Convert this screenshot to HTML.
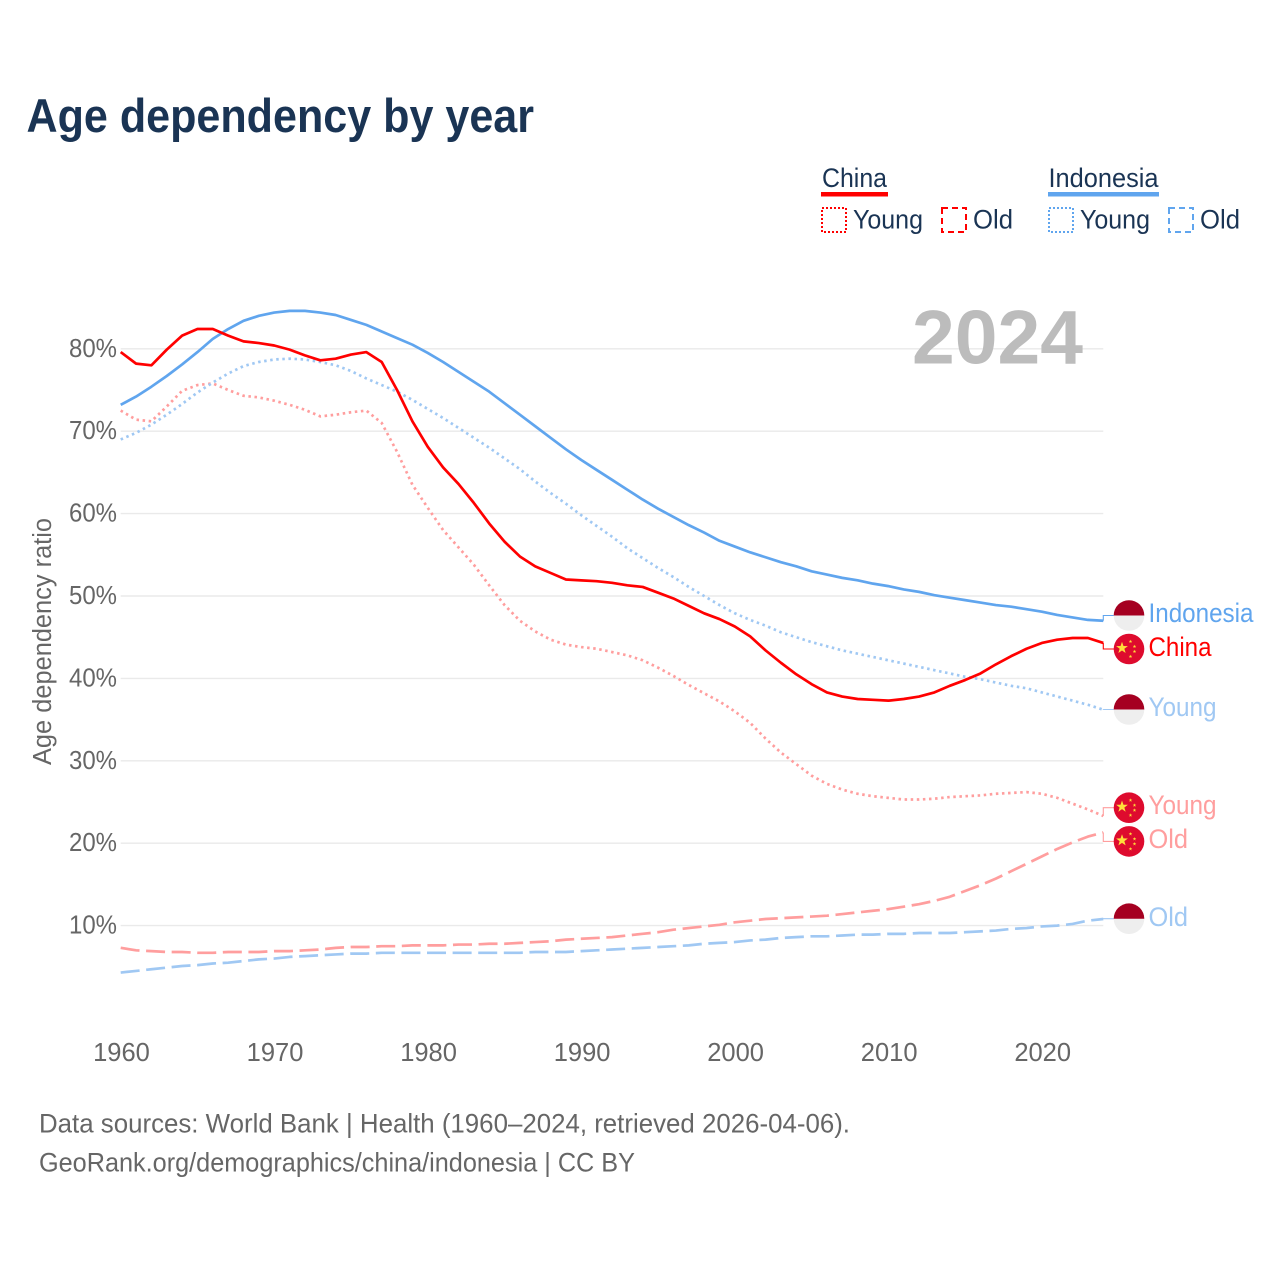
<!DOCTYPE html>
<html lang="en">
<head>
<meta charset="utf-8">
<title>Age dependency by year</title>
<style>
html,body{margin:0;padding:0;background:#fff;}
svg{display:block;}
text{font-family:"Liberation Sans",sans-serif;}
</style>
</head>
<body>
<svg id="chart" xmlns="http://www.w3.org/2000/svg" width="1280" height="1280" viewBox="0 0 1280 1280">
  <rect x="0" y="0" width="1280" height="1280" fill="#ffffff"/>
  <text x="26.5" y="132" font-size="47" font-weight="700" fill="#1a3454" textLength="507.5" lengthAdjust="spacingAndGlyphs">Age dependency by year</text>

  <g font-size="27" fill="#1a3454">
    <text x="822" y="187" textLength="65" lengthAdjust="spacingAndGlyphs">China</text>
    <rect x="821" y="192" width="67" height="4.5" fill="#ff0000"/>
    <rect x="822" y="208" width="24" height="24" fill="none" stroke="#ff0000" stroke-width="2" stroke-dasharray="2 2"/>
    <text x="853" y="228.5" textLength="70" lengthAdjust="spacingAndGlyphs">Young</text>
    <rect x="942" y="208" width="24" height="24" fill="none" stroke="#ff0000" stroke-width="2" stroke-dasharray="6 4"/>
    <text x="973" y="228.5" textLength="40" lengthAdjust="spacingAndGlyphs">Old</text>
    <text x="1048.5" y="187" textLength="110" lengthAdjust="spacingAndGlyphs">Indonesia</text>
    <rect x="1048" y="192" width="111" height="4.5" fill="#60a5ee"/>
    <rect x="1049" y="208" width="24" height="24" fill="none" stroke="#60a5ee" stroke-width="2" stroke-dasharray="2 2"/>
    <text x="1080" y="228.5" textLength="70" lengthAdjust="spacingAndGlyphs">Young</text>
    <rect x="1169" y="208" width="24" height="24" fill="none" stroke="#60a5ee" stroke-width="2" stroke-dasharray="6 4"/>
    <text x="1200" y="228.5" textLength="40" lengthAdjust="spacingAndGlyphs">Old</text>
  </g>

  <g id="grid"></g>
  <text x="912" y="363.5" font-size="76" font-weight="700" fill="#bcbcbc" textLength="171" lengthAdjust="spacingAndGlyphs">2024</text>
  <text x="0" y="0" transform="translate(51 765) rotate(-90)" font-size="25.5" fill="#666666" textLength="247" lengthAdjust="spacingAndGlyphs">Age dependency ratio</text>
  <g id="yticks"></g>
  <g id="xticks"></g>
  <g id="lines"></g>
  <g id="labels"></g>

  <g font-size="27" fill="#666666">
    <text x="39" y="1132.5" textLength="811" lengthAdjust="spacingAndGlyphs">Data sources: World Bank | Health (1960–2024, retrieved 2026-04-06).</text>
    <text x="39" y="1171.5" textLength="596" lengthAdjust="spacingAndGlyphs">GeoRank.org/demographics/china/indonesia | CC BY</text>
  </g>
</svg>
<script>
const firstYear = 1960;
const yearTicks = [1960, 1970, 1980, 1990, 2000, 2010, 2020];
const valueTicks = [10, 20, 30, 40, 50, 60, 70, 80];
const chinaTotal = [79.6,78.2,78.0,79.9,81.6,82.4,82.4,81.6,80.9,80.7,80.4,79.9,79.2,78.6,78.8,79.3,79.6,78.4,75.0,71.2,68.1,65.6,63.6,61.3,58.8,56.6,54.8,53.6,52.8,52.0,51.9,51.8,51.6,51.3,51.1,50.4,49.7,48.8,47.9,47.2,46.3,45.1,43.4,41.9,40.5,39.3,38.3,37.8,37.5,37.4,37.3,37.5,37.8,38.3,39.1,39.8,40.6,41.7,42.7,43.6,44.3,44.7,44.9,44.9,44.3];
const indonesiaTotal = [73.2,74.2,75.4,76.7,78.1,79.6,81.2,82.4,83.4,84.0,84.4,84.6,84.6,84.4,84.1,83.5,82.9,82.1,81.3,80.5,79.5,78.4,77.2,76.0,74.8,73.4,72.0,70.6,69.2,67.8,66.5,65.3,64.1,62.9,61.7,60.6,59.6,58.6,57.7,56.7,56.0,55.3,54.7,54.1,53.6,53.0,52.6,52.2,51.9,51.5,51.2,50.8,50.5,50.1,49.8,49.5,49.2,48.9,48.7,48.4,48.1,47.7,47.4,47.1,47.0];
const chinaYoung = [72.5,71.4,71.2,73.0,74.9,75.6,75.8,75.0,74.3,74.1,73.7,73.2,72.6,71.8,72.0,72.3,72.5,71.0,67.5,63.5,60.7,58.0,55.9,53.8,51.3,48.9,47.0,45.7,44.7,44.1,43.8,43.6,43.2,42.8,42.2,41.3,40.3,39.2,38.2,37.2,36.0,34.6,32.7,31.0,29.6,28.2,27.2,26.5,26.0,25.7,25.5,25.3,25.3,25.4,25.6,25.7,25.8,26.0,26.1,26.2,26.0,25.5,24.8,24.1,23.3];
const indonesiaYoung = [69.0,69.8,70.8,72.0,73.3,74.7,75.9,77.0,77.9,78.4,78.7,78.8,78.7,78.4,78.0,77.3,76.4,75.6,74.8,73.8,72.7,71.6,70.4,69.2,68.0,66.7,65.4,63.9,62.5,61.2,59.8,58.5,57.2,55.8,54.6,53.4,52.3,51.1,50.0,48.9,47.9,47.1,46.4,45.6,45.0,44.4,43.9,43.4,43.0,42.6,42.2,41.8,41.4,41.0,40.6,40.2,39.9,39.5,39.1,38.8,38.3,37.8,37.3,36.8,36.2];
const chinaOld = [7.3,7.0,6.9,6.8,6.8,6.7,6.7,6.8,6.8,6.8,6.9,6.9,7.0,7.1,7.3,7.4,7.4,7.5,7.5,7.6,7.6,7.6,7.7,7.7,7.8,7.8,7.9,8.0,8.1,8.3,8.4,8.5,8.6,8.8,9.0,9.2,9.5,9.7,9.9,10.1,10.4,10.6,10.8,10.9,11.0,11.1,11.2,11.4,11.6,11.8,12.0,12.3,12.6,13.0,13.5,14.2,14.9,15.7,16.6,17.5,18.4,19.3,20.1,20.8,21.3];
const indonesiaOld = [4.3,4.5,4.7,4.9,5.1,5.2,5.4,5.5,5.7,5.9,6.0,6.2,6.3,6.4,6.5,6.6,6.6,6.7,6.7,6.7,6.7,6.7,6.7,6.7,6.7,6.7,6.7,6.8,6.8,6.8,6.9,7.0,7.1,7.2,7.3,7.4,7.5,7.6,7.8,7.9,8.0,8.2,8.3,8.5,8.6,8.7,8.7,8.8,8.9,8.9,9.0,9.0,9.1,9.1,9.1,9.2,9.3,9.4,9.6,9.7,9.9,10.0,10.2,10.6,10.8];

const NS = 'http://www.w3.org/2000/svg';
function xScale(year) { return 120.7 + (year - 1960) * 15.353; }
function yScale(value) { return 1008 - value * 8.24; }
function make(tag, attrs, parent) {
  const el = document.createElementNS(NS, tag);
  for (const k in attrs) el.setAttribute(k, attrs[k]);
  parent.appendChild(el);
  return el;
}

const gridLayer = document.getElementById('grid');
const yTickLayer = document.getElementById('yticks');
valueTicks.forEach(function (v) {
  const line = make('line', {x1: xScale(1960), x2: xScale(2024), y1: yScale(v), y2: yScale(v), stroke: '#eaeaea', 'stroke-width': 1.4}, gridLayer);
  
  
  const t = make('text', {x: 69, y: yScale(v) + 8, 'font-size': 25.5, fill: '#666666', textLength: 48, lengthAdjust: 'spacingAndGlyphs'}, yTickLayer);
  
  
  t.textContent = v + '%';
});

const xTickLayer = document.getElementById('xticks');
yearTicks.forEach(function (yr) {
  const t = make('text', {x: xScale(yr) + 0.8, y: 1061, 'font-size': 25.5, fill: '#666666', 'text-anchor': 'middle'}, xTickLayer);
  
  
  t.textContent = String(yr);
});

const lineLayer = document.getElementById('lines');
function drawLine(values, name, color, dash) {
  const d = values.map(function (v, i) {
    return (i ? 'L' : 'M') + xScale(firstYear + i).toFixed(2) + ' ' + yScale(v).toFixed(2);
  }).join('');
  const p = make('path', {d: d, fill: 'none', stroke: color, 'stroke-width': 2.7, 'stroke-linejoin': 'round'}, lineLayer);
  if (dash) p.setAttribute('stroke-dasharray', dash);
  
  
}
const DOT = '2.5 3.6';
const DASH = '19 6.6';
drawLine(indonesiaOld, 'line-indonesia-old', '#a0c8f3', DASH);
drawLine(chinaOld, 'line-china-old', '#ff9e9e', DASH);
drawLine(chinaYoung, 'line-china-young', '#ff9e9e', DOT);
drawLine(indonesiaYoung, 'line-indonesia-young', '#a0c8f3', DOT);
drawLine(indonesiaTotal, 'line-indonesia-total', '#60a5ee', null);
drawLine(chinaTotal, 'line-china-total', '#ff0000', null);

const labelLayer = document.getElementById('labels');
function star(cx, cy, r, parent) {
  let pts = '';
  for (let i = 0; i < 10; i++) {
    const a = -Math.PI / 2 + i * Math.PI / 5;
    const rr = i % 2 ? r * 0.4 : r;
    pts += (cx + rr * Math.cos(a)).toFixed(2) + ',' + (cy + rr * Math.sin(a)).toFixed(2) + ' ';
  }
  const s = make('polygon', {points: pts, fill: '#ffde3a'}, parent);
  
  
}
function drawFlag(country, cy, parent) {
  const cx = 1129;
  const g = make('g', {}, parent);
  
  
  if (country === 'china') {
    make('circle', {cx: cx, cy: cy, r: 15.3, fill: '#de0b2e'}, g);
    star(cx - 7, cy - 1, 6.2, g);
    star(cx + 1.5, cy - 7.5, 1.9, g);
    star(cx + 5.5, cy - 2.5, 1.9, g);
    star(cx + 5.5, cy + 2.5, 1.9, g);
    star(cx + 1.5, cy + 7.5, 1.9, g);
  } else {
    make('circle', {cx: cx, cy: cy, r: 15.3, fill: '#eeeeee'}, g);
    make('path', {d: 'M' + (cx - 15.3) + ' ' + cy + 'A15.3 15.3 0 0 1 ' + (cx + 15.3) + ' ' + cy + 'Z', fill: '#a50021'}, g);
  }
}
function drawEndLabel(text, country, values, slug, color, flagY, baseY, width) {
  const endX = xScale(2024);
  const endY = yScale(values[values.length - 1]);
  const c = make('path', {d: 'M' + endX + ' ' + endY.toFixed(2) + 'V' + flagY + 'H1114', fill: 'none', stroke: color, 'stroke-width': 1.1}, labelLayer);
  
  
  drawFlag(country, flagY, labelLayer);
  const t = make('text', {x: 1148.5, y: baseY, 'font-size': 26.5, fill: color, textLength: width, lengthAdjust: 'spacingAndGlyphs'}, labelLayer);
  
  
  t.textContent = text;
}
drawEndLabel('Indonesia', 'indonesia', indonesiaTotal, 'indonesia-total', '#60a5ee', 615.5, 622, 105);
drawEndLabel('China', 'china', chinaTotal, 'china-total', '#ff0000', 649, 656, 63);
drawEndLabel('Young', 'indonesia', indonesiaYoung, 'indonesia-young', '#a0c8f3', 709.5, 716, 68);
drawEndLabel('Young', 'china', chinaYoung, 'china-young', '#ff9e9e', 807.7, 814, 68);
drawEndLabel('Old', 'china', chinaOld, 'china-old', '#ff9e9e', 841.4, 848, 39.5);
drawEndLabel('Old', 'indonesia', indonesiaOld, 'indonesia-old', '#a0c8f3', 918.7, 926, 39.5);
</script>
</body>
</html>
